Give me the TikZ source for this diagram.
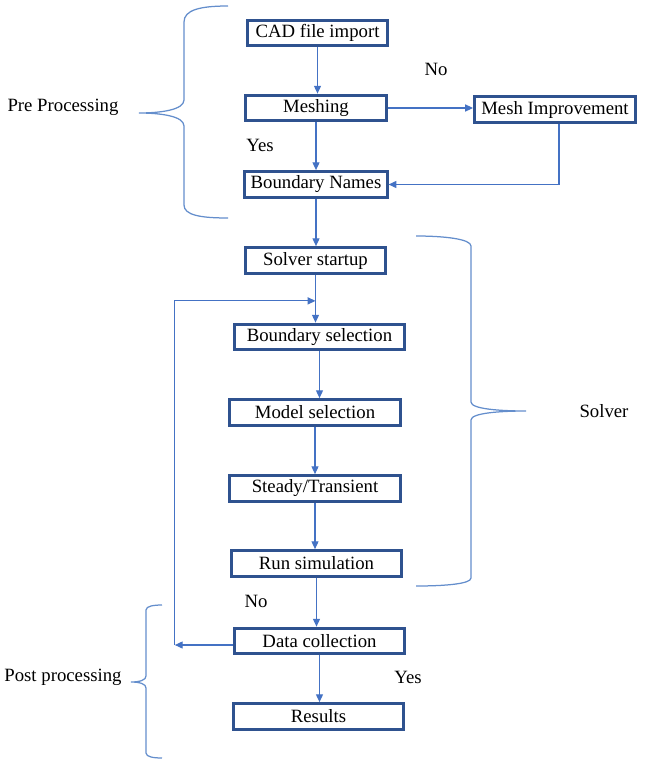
\documentclass[tikz,border=0pt]{standalone}
\usepackage{fontspec}
\setmainfont{Liberation Serif}
\usetikzlibrary{arrows.meta}
\definecolor{boxblue}{RGB}{47,82,143}
\definecolor{flowblue}{RGB}{68,114,196}
\definecolor{bracblue}{RGB}{100,142,204}

\begin{document}
\begin{tikzpicture}[x=0.64pt,y=-0.64pt,
    stage/.style={draw=boxblue,line width=1.9pt,minimum height=16.5pt,inner sep=0pt,
      font=\fontsize{12}{14}\selectfont},
    flow/.style={draw=flowblue,line width=0.7pt,-{Triangle[length=5pt,width=4.5pt]}},
    brac/.style={draw=bracblue,line width=0.8pt},
    note/.style={font=\fontsize{12}{14}\selectfont}]
  \useasboundingbox (0,0) rectangle (644,768);
  % stages
  \node[stage,minimum width=90pt] (cad) at (317.5,33) {CAD file import};
  \node[stage,minimum width=90pt] (mesh) at (316,108) {Meshing};
  \node[stage,minimum width=103pt] (mi) at (555,109.5) {Mesh Improvement};
  \node[stage,minimum width=91pt] (bnames) at (316,184.5) {Boundary Names};
  \node[stage,minimum width=90pt] (ss) at (315.5,260.5) {Solver startup};
  \node[stage,minimum width=109pt] (bsel) at (319.5,337) {Boundary selection};
  \node[stage,minimum width=110pt] (msel) at (315,412.5) {Model selection};
  \node[stage,minimum width=110pt] (st) at (315,488.5) {Steady/Transient};
  \node[stage,minimum width=109pt] (run) at (316.5,563.5) {Run simulation};
  \node[stage,minimum width=109pt] (dc) at (319.5,641) {Data collection};
  \node[stage,minimum width=109pt] (res) at (318.5,716.5) {Results};
  % flow
  \foreach \a/\b in {cad/mesh,mesh/bnames,bnames/ss,ss/bsel,bsel/msel,msel/st,st/run,run/dc,dc/res}
    \draw[flow] (\a.south) -- (\a.south |- \b.north);
  \draw[flow] (mesh.east) -- (mesh.east -| mi.west);
  \draw[flow] (mi.south) ++(4,0) |- (bnames.east);
  \path (ss.south) ++(0,26) coordinate (join);
  \path (dc.west) ++(-58,4) coordinate (back);
  \draw[flow] (dc.west |- back) -- (back);
  \draw[flow] (back) |- (join);
  % labels
  \node[note] (no1) at (436,69) {No};
  \node[note] (yes1) at (260,145) {Yes};
  \node[note] (no2) at (256,601) {No};
  \node[note] (yes2) at (408,677) {Yes};
  \node[note] (pre) at (63,107) {Pre Processing};
  \node[note] (solver) at (604,411) {Solver};
  \node[note] (post) at (63,677) {Post processing};
  % braces
  \draw[brac] (228,6) .. controls (200,6) and (184,10) .. (184,22) -- (184,100)
    .. controls (184,110) and (160,113) .. (139,113)
    .. controls (160,113) and (184,116) .. (184,126) -- (184,205)
    .. controls (184,215) and (200,218) .. (228,218);
  \draw[brac] (416,236) .. controls (444,236) and (471,239) .. (471,246) -- (471,402)
    .. controls (471,409) and (500,411) .. (526,411)
    .. controls (500,411) and (471,413) .. (471,420) -- (471,578)
    .. controls (471,584) and (444,586) .. (416,586);
  \draw[brac] (162,605) .. controls (154,605) and (146,606) .. (146,610) -- (146,676)
    .. controls (146,680) and (140,682) .. (131,682)
    .. controls (140,682) and (146,684) .. (146,688) -- (146,753)
    .. controls (146,757) and (154,758) .. (162,758);
\end{tikzpicture}
\end{document}
